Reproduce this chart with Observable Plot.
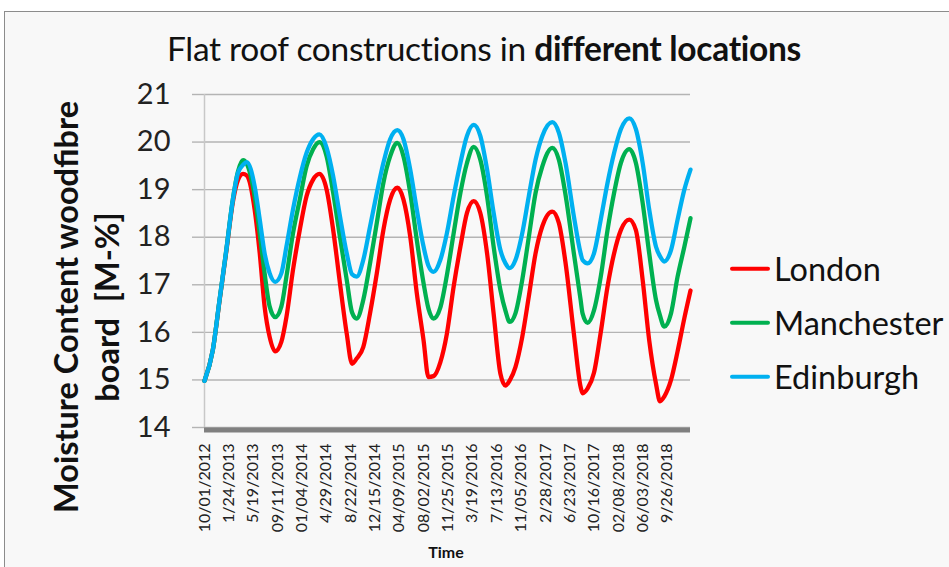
<!DOCTYPE html>
<html>
<head>
<meta charset="utf-8">
<script src="https://cdn.jsdelivr.net/npm/d3@7"></script>
<script src="https://cdn.jsdelivr.net/npm/@observablehq/plot@0.6"></script>
<style>
  body { margin: 0; background: #ffffff; }
  #wrap { position: relative; width: 949px; height: 567px; overflow: hidden; background: #ffffff; font-family: Lato, "Open Sans", sans-serif; }
  #frame { position: absolute; left: 4px; top: 11px; width: 1000px; height: 600px; background: #f8f8f8; border-top: 1.5px solid #8c8c8c; border-left: 1.5px solid #8c8c8c; }
  #chart { position: absolute; left: 0; top: 0; }
  #title { position: absolute; left: 0; top: 32px; width: 968px; text-align: center; font-size: 33.5px; line-height: 1; color: #111; white-space: nowrap; letter-spacing: -0.3px; }
  #title b { font-weight: 700; }
  .ylab { position: absolute; font-weight: 700; font-size: 32.5px; line-height: 1; color: #111; white-space: pre; transform: translate(-50%, -50%) rotate(-90deg); }
  #xlab { position: absolute; left: 446px; top: 552px; transform: translate(-50%, -50%); font-weight: 700; font-size: 16px; line-height: 1; color: #111; }
  .leg { position: absolute; left: 730px; display: flex; align-items: center; transform: translateY(-50%); font-size: 32.5px; line-height: 1; color: #111; }
  .leg .sw { width: 40px; height: 4px; margin-right: 4px; border-radius: 2px; }
</style>
</head>
<body>
<div id="wrap">
  <div id="frame"></div>
  <div id="chart"></div>
  <div id="title">Flat roof constructions in <b>different locations</b></div>
  <div class="ylab" style="left:66px; top:307px;">Moisture Content woodfibre</div>
  <div class="ylab" style="left:107px; top:307px;">board  [M-%]</div>
  <div id="xlab">Time</div>
  <div id="legend"></div>
</div>
<script>
const cities = ["London", "Manchester", "Edinburgh"];
const colors = ["#ff0000", "#00b050", "#00b0f0"];

const dates = [
  "2012-10-01","2012-11-09","2012-12-11","2013-01-12","2013-02-12","2013-03-08","2013-04-01","2013-04-18",
  "2013-05-26","2013-06-19","2013-07-12","2013-08-05","2013-08-31","2013-09-29","2013-10-23","2013-11-23",
  "2013-12-25","2014-01-26","2014-02-26","2014-03-28","2014-05-01","2014-06-01","2014-07-03","2014-08-04",
  "2014-08-29","2014-09-20","2014-10-21","2014-11-22","2014-12-24","2015-01-24","2015-02-25","2015-03-31",
  "2015-04-29","2015-05-31","2015-07-01","2015-08-02","2015-08-25","2015-09-18","2015-10-20","2015-11-20",
  "2015-12-22","2016-01-23","2016-02-23","2016-03-26","2016-04-26","2016-05-28","2016-06-28","2016-07-30",
  "2016-08-23","2016-09-12","2016-10-09","2016-11-10","2016-12-11","2017-01-12","2017-02-13","2017-04-01",
  "2017-05-02","2017-06-03","2017-07-12","2017-08-13","2017-08-22","2017-09-15","2017-10-15","2017-11-16",
  "2017-12-18","2018-01-18","2018-02-19","2018-03-31","2018-05-01","2018-06-02","2018-07-03","2018-08-04",
  "2018-08-23","2018-09-12","2018-10-14","2018-11-14","2018-12-16","2019-01-14"
];

const london = [
  14.98,15.62,16.66,17.70,18.74,19.20,19.33,19.30,
  18.58,17.66,16.54,15.90,15.60,15.80,16.32,17.31,
  18.15,18.86,19.21,19.33,19.00,18.15,17.03,15.97,
  15.34,15.45,15.69,16.40,17.24,18.15,18.79,19.04,
  18.79,18.01,16.82,15.83,15.06,15.08,15.37,15.97,
  16.96,17.80,18.51,18.76,18.51,17.66,16.39,15.13,
  14.88,14.99,15.27,15.90,16.75,17.66,18.23,18.54,
  18.30,17.45,15.97,14.85,14.72,14.82,15.15,16.00,
  16.96,17.66,18.15,18.37,18.15,17.10,15.83,14.92,
  14.55,14.65,15.00,15.60,16.30,16.88
];

const manchester = [
  14.98,15.62,16.68,17.73,18.80,19.38,19.62,19.55,
  18.86,18.08,17.24,16.54,16.32,16.54,17.17,18.08,
  18.79,19.49,19.85,20.00,19.70,18.93,18.00,17.10,
  16.42,16.29,16.68,17.45,18.30,19.14,19.70,19.98,
  19.70,18.93,17.94,17.03,16.50,16.29,16.52,17.20,
  18.08,18.93,19.56,19.90,19.63,18.86,17.80,16.89,
  16.45,16.22,16.40,17.10,18.00,18.93,19.49,19.88,
  19.63,18.88,17.66,16.68,16.40,16.20,16.46,17.17,
  18.15,18.93,19.56,19.85,19.56,18.72,17.66,16.68,
  16.35,16.12,16.40,17.17,17.80,18.40
];

const edinburgh = [
  14.98,15.62,16.68,17.73,18.79,19.35,19.52,19.58,
  19.07,18.37,17.66,17.24,17.06,17.24,17.80,18.58,
  19.25,19.77,20.06,20.16,19.88,19.28,18.44,17.66,
  17.22,17.17,17.52,18.22,18.93,19.56,20.06,20.25,
  20.06,19.42,18.58,17.80,17.40,17.27,17.52,18.08,
  18.86,19.56,20.13,20.36,20.13,19.42,18.51,17.73,
  17.45,17.35,17.52,18.08,18.86,19.63,20.13,20.42,
  20.20,19.55,18.44,17.66,17.52,17.45,17.66,18.37,
  19.14,19.77,20.27,20.50,20.27,19.56,18.58,17.80,
  17.60,17.49,17.73,18.37,19.00,19.42
];

const yTicks = [14, 15, 16, 17, 18, 19, 20, 21];
const xTickDates = [
  "2012-10-01","2013-01-24","2013-05-19","2013-09-11","2014-01-04","2014-04-29","2014-08-22",
  "2014-12-15","2015-04-09","2015-08-02","2015-11-25","2016-03-19","2016-07-13","2016-11-05",
  "2017-02-28","2017-06-23","2017-10-16","2018-02-08","2018-06-03","2018-09-26"
];
const xTickLabels = [
  "10/01/2012","1/24/2013","5/19/2013","09/11/2013","01/04/2014","4/29/2014","8/22/2014",
  "12/15/2014","04/09/2015","08/02/2015","11/25/2015","3/19/2016","7/13/2016","11/05/2016",
  "2/28/2017","6/23/2017","10/16/2017","02/08/2018","06/03/2018","9/26/2018"
];

const parse = d3.utcParse("%Y-%m-%d");
const series = [london, manchester, edinburgh];
const rows = [];
cities.forEach((c, ci) => {
  dates.forEach((d, i) => rows.push({ date: parse(d), value: series[ci][i], city: c }));
});
const tickDates = xTickDates.map(parse);
const labelMap = new Map(tickDates.map((d, i) => [+d, xTickLabels[i]]));

const chart = Plot.plot({
  width: 949,
  height: 567,
  marginLeft: 204,
  marginRight: 259,
  marginTop: 94,
  marginBottom: 140,
  style: { background: "transparent", fontFamily: "Lato, 'Open Sans', sans-serif" },
  x: { type: "utc", domain: [parse(dates[0]), parse(dates[dates.length - 1])] },
  y: { domain: [14, 21] },
  color: { domain: cities, range: colors },
  marks: [
    Plot.gridY(yTicks, { stroke: "#b4b4b4", strokeOpacity: 1, strokeWidth: 1.4 }),
    Plot.axisY(yTicks, { tickSize: 12, stroke: "#b4b4b4", strokeWidth: 1.4, fill: "#222", fontSize: 29, tickPadding: 22, label: null }),
    Plot.ruleX([parse(dates[0])], { stroke: "#c8c8c8", strokeWidth: 1.5 }),
    Plot.ruleY([14], { stroke: "#808080", strokeWidth: 5, dy: 2.5 }),
    Plot.axisX(tickDates, { tickFormat: d => labelMap.get(+d), tickRotate: -90, tickSize: 0, tickPadding: 16, fontSize: 16, fill: "#222", label: null }),
    Plot.line(rows, { x: "date", y: "value", z: "city", stroke: "city", strokeWidth: 4.3, curve: "monotone-x", strokeLinejoin: "round", strokeLinecap: "round" })
  ]
});
document.getElementById("chart").appendChild(chart);

const legend = document.getElementById("legend");
const legY = [269, 323, 377];
cities.forEach((c, i) => {
  const item = document.createElement("div");
  item.className = "leg";
  item.style.top = legY[i] + "px";
  item.innerHTML = `<span class="sw" style="background:${colors[i]}"></span><span>${c}</span>`;
  legend.appendChild(item);
});
</script>
</body>
</html>
